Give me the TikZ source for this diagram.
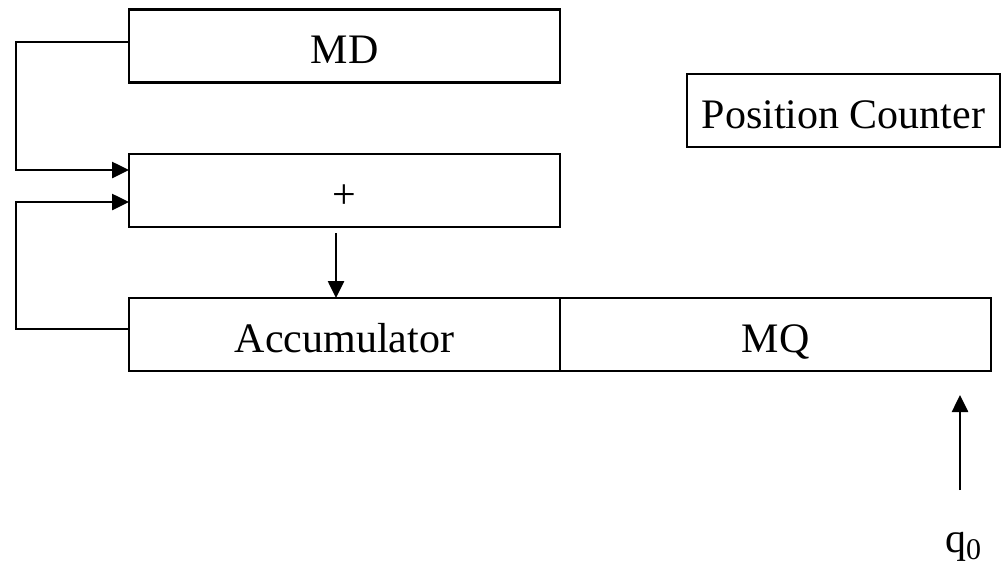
\documentclass[tikz,border=0pt]{standalone}
\usepackage{fontspec}
\setmainfont{Liberation Serif}
\usetikzlibrary{arrows.meta}
\begin{document}
\begin{tikzpicture}[x=1pt,y=-1pt,
  reg/.style={draw, line width=2.6pt, inner sep=0pt, outer sep=0pt,
    minimum height=73pt, text height=35pt, text depth=0pt,
    font=\fontsize{42}{50}\selectfont},
  lbl/.style={inner sep=0pt, font=\fontsize{42}{50}\selectfont},
  wire/.style={line width=2.6pt},
  arr/.style={wire, -{Triangle[length=17pt,width=16pt]}}]
\useasboundingbox (0,0) rectangle (1002,566);

% registers
\node[reg, minimum width=431pt] (md)   at (344.5,46)    {MD};
\node[reg, minimum width=431pt] (plus) at (344.5,190.5) {+};
\node[reg, minimum width=431pt] (acc)  at (344.5,334.5) {Accumulator};
\node[reg, minimum width=431pt] (mq)   at (775.5,334.5) {MQ};
\node[reg, minimum width=313pt] (pc)   at (843.5,110.5) {Position Counter};
\node[lbl, anchor=base west] (q0) at (945,552)
  {q\raisebox{-7pt}{\fontsize{30}{32}\selectfont 0}};

% routing points
\coordinate (mdout) at (129,42);
\coordinate (in1)   at (16,170);
\coordinate (accout) at (129,329);
\coordinate (in2)   at (16,202);
\coordinate (dtail) at (336,233);
\coordinate (qtail) at (960,490);
\coordinate (qtip)  at (960,395);

% MD and accumulator feed the adder
\draw[arr] (mdout) -| (in1) -- (plus.west |- in1);
\draw[arr] (accout) -| (in2) -- (plus.west |- in2);
% adder output to accumulator
\draw[arr] (dtail) -- (dtail |- acc.north);
% q0 input
\draw[arr] (qtail) -- (qtip);
\end{tikzpicture}
\end{document}
